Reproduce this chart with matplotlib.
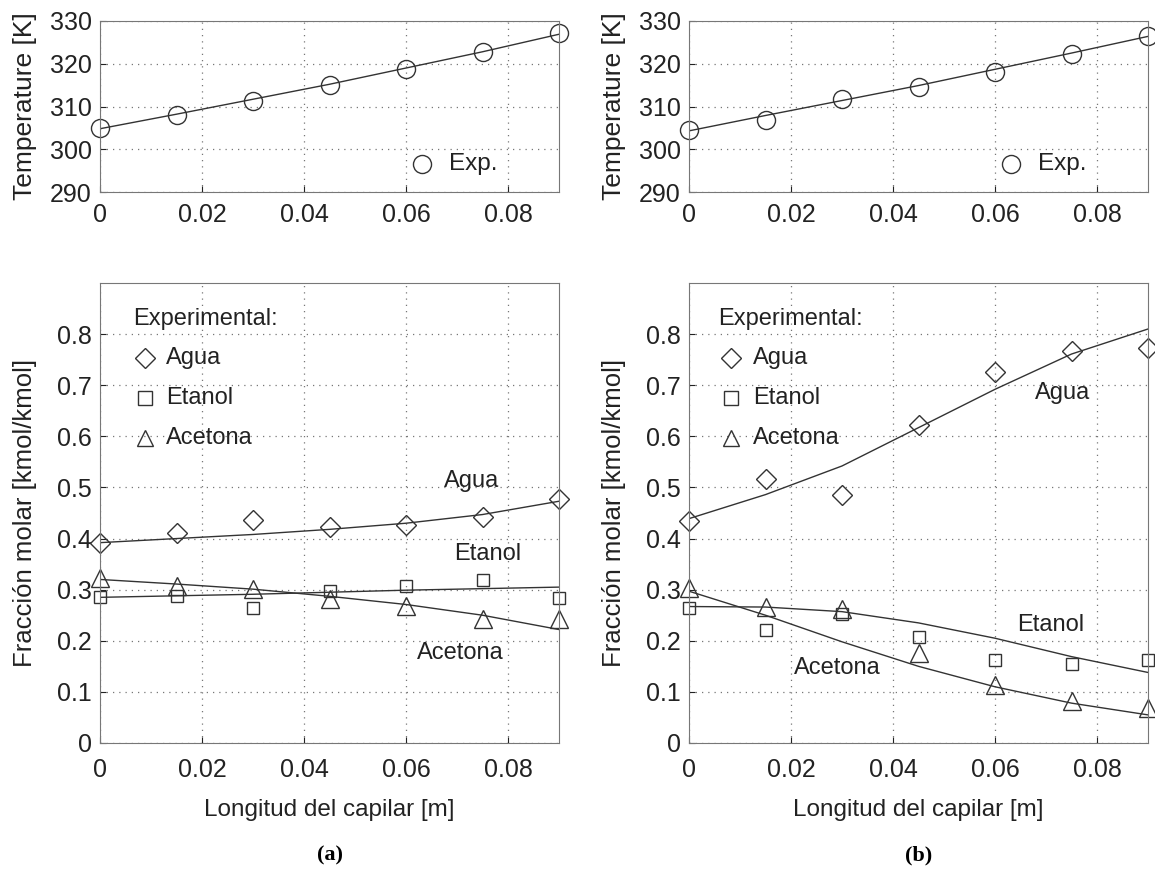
import numpy as np
import matplotlib.pyplot as plt
from matplotlib.ticker import FuncFormatter

plt.rcParams['font.family'] = ['Liberation Sans', 'DejaVu Sans']

# posiciones a lo largo del capilar [m]
x = [0, 0.015, 0.03, 0.045, 0.06, 0.075, 0.09]

# (a)
temp_exp_a = [305.0, 308.0, 311.3, 315.0, 318.7, 322.7, 327.3]
temp_mod_a = [304.8, 308.2, 311.7, 315.2, 319.0, 322.8, 326.9]
agua_exp_a = [0.392, 0.410, 0.437, 0.422, 0.427, 0.443, 0.478]
agua_mod_a = [0.392, 0.400, 0.408, 0.418, 0.430, 0.447, 0.473]
etanol_exp_a = [0.285, 0.287, 0.265, 0.298, 0.307, 0.318, 0.283]
etanol_mod_a = [0.285, 0.288, 0.291, 0.295, 0.299, 0.302, 0.305]
acetona_exp_a = [0.322, 0.308, 0.302, 0.282, 0.268, 0.243, 0.243]
acetona_mod_a = [0.320, 0.311, 0.301, 0.287, 0.271, 0.250, 0.222]

# (b)
temp_exp_b = [304.5, 306.8, 311.7, 314.5, 318.0, 322.2, 326.5]
temp_mod_b = [304.3, 307.9, 311.4, 314.9, 318.7, 322.5, 326.4]
agua_exp_b = [0.435, 0.517, 0.486, 0.622, 0.725, 0.767, 0.772]
agua_mod_b = [0.439, 0.486, 0.542, 0.617, 0.692, 0.761, 0.810]
etanol_exp_b = [0.264, 0.222, 0.253, 0.207, 0.163, 0.155, 0.163]
etanol_mod_b = [0.267, 0.266, 0.257, 0.235, 0.205, 0.169, 0.138]
acetona_exp_b = [0.303, 0.267, 0.262, 0.176, 0.113, 0.083, 0.068]
acetona_mod_b = [0.297, 0.250, 0.198, 0.150, 0.110, 0.078, 0.055]

col = '#333333'
tcol = '#222222'
mk = dict(linestyle='none', mfc='none', mec=col, mew=1.0, clip_on=False)


def fmt(v, pos):
    if abs(v) < 1e-12:
        return '0'
    return ('%g' % round(v, 4))


def style(ax, xpad):
    ax.grid(True, linestyle=(0, (1, 4)), color='#777777', linewidth=0.9)
    ax.tick_params(direction='in', length=4, labelsize=18, colors=tcol)
    ax.tick_params(axis='x', pad=xpad)
    ax.tick_params(axis='y', pad=6)
    for s in ax.spines.values():
        s.set_color('#777777')
    ax.set_xlim(0, 0.09)
    ax.set_xticks([0, 0.02, 0.04, 0.06, 0.08])
    ax.xaxis.set_major_formatter(FuncFormatter(fmt))
    ax.yaxis.set_major_formatter(FuncFormatter(fmt))


fig = plt.figure(figsize=(11.55, 8.75), dpi=100)
lefts = [100 / 1155, 689 / 1155]
w = 459 / 1155

sets = [
    (temp_exp_a, temp_mod_a, agua_exp_a, agua_mod_a, etanol_exp_a, etanol_mod_a,
     acetona_exp_a, acetona_mod_a, '(a)'),
    (temp_exp_b, temp_mod_b, agua_exp_b, agua_mod_b, etanol_exp_b, etanol_mod_b,
     acetona_exp_b, acetona_mod_b, '(b)'),
]

for i, (te, tm, ae, am, ee, em, ce, cm, tag) in enumerate(sets):
    # temperatura
    ax = fig.add_axes([lefts[i], 1 - 192 / 875, w, 171 / 875])
    style(ax, 8)
    ax.set_ylim(290, 330)
    ax.set_yticks([290, 300, 310, 320, 330])
    ax.plot(x, tm, color=col, lw=1)
    ax.plot(x, te, marker='o', ms=13, **mk)
    ax.plot([0.0632], [296.6], marker='o', ms=13, **mk)
    ax.text(0.0685, 296.6, 'Exp.', fontsize=17.5, va='center', color=tcol)
    ax.set_ylabel('Temperature [K]', fontsize=19, color=tcol, va='center')
    ax.yaxis.set_label_coords(-75 / 459, 0.5)

    # fracciones molares
    ax = fig.add_axes([lefts[i], 1 - 743 / 875, w, 460 / 875])
    style(ax, 11)
    ax.set_ylim(0, 0.9)
    ax.set_yticks(np.arange(0, 0.85, 0.1))
    ax.plot(x, am, color=col, lw=1)
    ax.plot(x, em, color=col, lw=1)
    ax.plot(x, cm, color=col, lw=1)
    ax.plot(x, ae, marker='D', ms=10.5, **mk)
    ax.plot(x, ee, marker='s', ms=9, **mk)
    ax.plot(x, ce, marker='^', ms=12.5, **mk)

    mx = 0.0089 if i == 0 else 0.0082
    tx = 0.0130 if i == 0 else 0.0125
    ax.text(mx - 0.0024, 0.829, 'Experimental:', fontsize=17, va='center', color=tcol)
    ax.plot([mx], [0.753], marker='D', ms=10.5, **mk)
    ax.plot([mx], [0.675], marker='s', ms=10, **mk)
    ax.plot([mx], [0.596], marker='^', ms=11, **mk)
    ax.text(tx, 0.753, 'Agua', fontsize=17, va='center', color=tcol)
    ax.text(tx, 0.675, 'Etanol', fontsize=17, va='center', color=tcol)
    ax.text(tx, 0.596, 'Acetona', fontsize=17, va='center', color=tcol)

    if i == 0:
        ax.text(0.0675, 0.512, 'Agua', fontsize=17, va='center', color=tcol)
        ax.text(0.0695, 0.369, 'Etanol', fontsize=17, va='center', color=tcol)
        ax.text(0.0622, 0.176, 'Acetona', fontsize=17, va='center', color=tcol)
    else:
        ax.text(0.0679, 0.684, 'Agua', fontsize=17, va='center', color=tcol)
        ax.text(0.0644, 0.231, 'Etanol', fontsize=17, va='center', color=tcol)
        ax.text(0.0206, 0.146, 'Acetona', fontsize=17, va='center', color=tcol)

    ax.set_ylabel('Fracción molar [kmol/kmol]', fontsize=18.5, color=tcol, va='center')
    ax.yaxis.set_label_coords(-75 / 459, 0.5)
    ax.set_xlabel('Longitud del capilar [m]', fontsize=17.5, color=tcol, va='center')
    ax.xaxis.set_label_coords(0.5, -67 / 460)

    fig.text(lefts[i] + w / 2, 1 - 855 / 875, tag, fontsize=16, fontweight='bold',
             family='Liberation Serif', ha='center', va='center')

fig.savefig('out.png', dpi=100)
